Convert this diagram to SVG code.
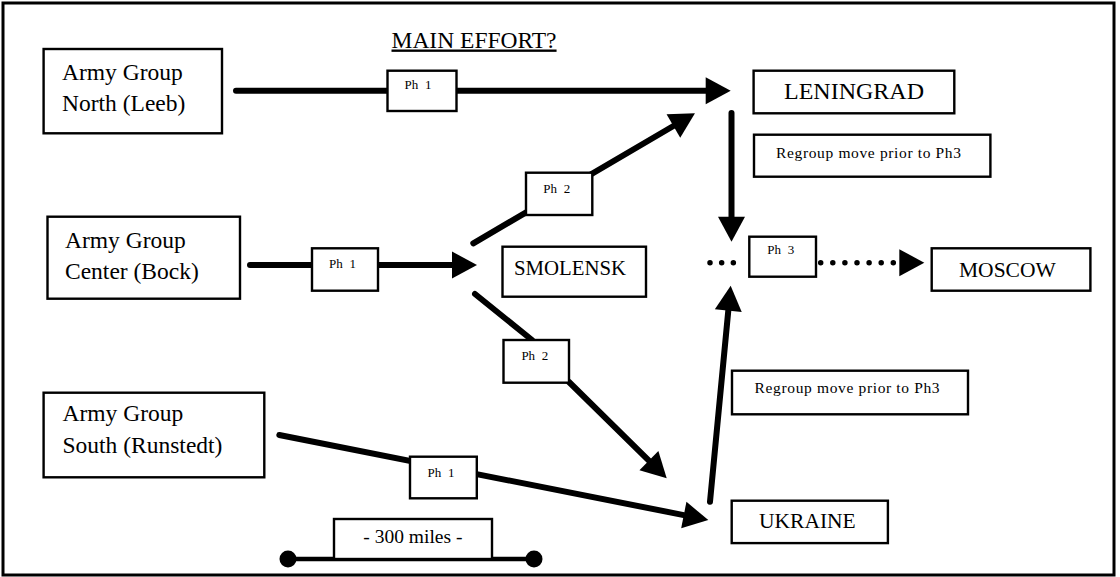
<svg xmlns="http://www.w3.org/2000/svg" width="1120" height="577" viewBox="0 0 1120 577">
<style>
.box{fill:#fff;stroke:#000;stroke-width:2.4}
.t{font-family:"Liberation Serif","Times New Roman",serif;fill:#000}
.ag{font-size:23.5px}
.city{font-size:21.5px}
.ph{font-size:13px;word-spacing:3.5px}
.rg{font-size:15.5px}
.ln{fill:none;stroke:#000;stroke-width:6;stroke-linecap:round}
.dot{fill:none;stroke:#000;stroke-width:5.5;stroke-linecap:round}
</style>
<defs>
<marker id="ah" viewBox="0 0 25 27" refX="0" refY="13.5" markerWidth="25" markerHeight="27" markerUnits="userSpaceOnUse" orient="auto" overflow="visible">
<path d="M0,0 L25,13.5 L0,27 Z" fill="#000"/>
</marker>
</defs>
<rect x="3" y="3" width="1111" height="572" fill="#fff" stroke="#000" stroke-width="3"/>
<text class="t" x="391.5" y="47.5" font-size="23.5" text-decoration="underline">MAIN EFFORT?</text>
<g id="connectors">
<line class="ln" x1="236" y1="90.7" x2="705.7" y2="90.7" marker-end="url(#ah)"/>
<line class="ln" x1="731.5" y1="113" x2="731.5" y2="216.7" marker-end="url(#ah)"/>
<line class="ln" x1="473.3" y1="243.3" x2="673.4" y2="126" marker-end="url(#ah)"/>
<line class="ln" x1="250" y1="265" x2="452" y2="265" marker-end="url(#ah)"/>
<line class="ln" x1="475" y1="294" x2="532" y2="340"/>
<line class="ln" x1="569" y1="382" x2="648.9" y2="460.7" marker-end="url(#ah)"/>
<line class="ln" x1="279.3" y1="435" x2="683.8" y2="515.1" marker-end="url(#ah)"/>
<line class="ln" x1="710" y1="501.7" x2="728.3" y2="310.6" marker-end="url(#ah)"/>
<line class="dot" x1="710" y1="262.7" x2="745" y2="262.7" stroke-dasharray="0 11.67"/>
<line class="dot" x1="820.7" y1="262.7" x2="899.3" y2="262.7" stroke-dasharray="0 12.1" marker-end="url(#ah)"/>
<g id="scale-bar">
<line x1="288" y1="559" x2="534" y2="559" stroke="#000" stroke-width="4.5"/>
<circle cx="288" cy="559" r="8.5" fill="#000"/>
<circle cx="534" cy="559" r="8.5" fill="#000"/>
</g>
</g>
<g id="ag-north">
<rect class="box" x="43.6" y="49" width="178.4" height="84.3"/>
<text class="t ag" x="62" y="80">Army Group</text>
<text class="t ag" x="62" y="111">North (Leeb)</text>
</g>
<g id="ag-center">
<rect class="box" x="47.5" y="216.7" width="192.5" height="82"/>
<text class="t ag" x="65" y="247.7">Army Group</text>
<text class="t ag" x="65" y="279">Center (Bock)</text>
</g>
<g id="ag-south">
<rect class="box" x="43.6" y="392.7" width="220.7" height="84.6"/>
<text class="t ag" x="62.5" y="420.7">Army Group</text>
<text class="t ag" x="62.5" y="452.7">South (Runstedt)</text>
</g>
<g id="leningrad">
<rect class="box" x="753.6" y="70.7" width="200.7" height="42.6"/>
<text class="t" x="784" y="99" font-size="24">LENINGRAD</text>
</g>
<g id="smolensk">
<rect class="box" x="502.5" y="246.7" width="143.5" height="50"/>
<text class="t" x="514" y="275" font-size="20.8">SMOLENSK</text>
</g>
<g id="moscow">
<rect class="box" x="931.7" y="248.3" width="158.7" height="42.4"/>
<text class="t city" x="959" y="277.3">MOSCOW</text>
</g>
<g id="ukraine">
<rect class="box" x="731.7" y="500.7" width="156.2" height="42.4"/>
<text class="t city" x="759" y="528.3">UKRAINE</text>
</g>
<g id="regroup-top">
<rect class="box" x="754" y="134.7" width="236.4" height="42"/>
<text class="t rg" x="776" y="158.3" textLength="185">Regroup move prior to Ph3</text>
</g>
<g id="regroup-bottom">
<rect class="box" x="732" y="370.7" width="236" height="43.6"/>
<text class="t rg" x="754.6" y="393.3" textLength="185">Regroup move prior to Ph3</text>
</g>
<g id="ph1-north">
<rect class="box" x="387.5" y="70.7" width="69" height="40.3"/>
<text class="t ph" x="404.6" y="89.3">Ph 1</text>
</g>
<g id="ph1-center">
<rect class="box" x="312" y="248.3" width="66" height="42.4"/>
<text class="t ph" x="329" y="268.3">Ph 1</text>
</g>
<g id="ph1-south">
<rect class="box" x="410" y="456.7" width="66.8" height="41.6"/>
<text class="t ph" x="427.5" y="476.7">Ph 1</text>
</g>
<g id="ph2-upper">
<rect class="box" x="526" y="172.7" width="66.3" height="42.3"/>
<text class="t ph" x="543.3" y="192.7">Ph 2</text>
</g>
<g id="ph2-lower">
<rect class="box" x="503.5" y="340" width="65.5" height="42.7"/>
<text class="t ph" x="521.4" y="360">Ph 2</text>
</g>
<g id="ph3">
<rect class="box" x="749.3" y="236.7" width="66.7" height="40"/>
<text class="t ph" x="767.3" y="254.3">Ph 3</text>
</g>
<g id="scale-label">
<rect class="box" x="334" y="519" width="158" height="40"/>
<text class="t" x="363.3" y="543.3" font-size="19.5">- 300 miles -</text>
</g>
</svg>
